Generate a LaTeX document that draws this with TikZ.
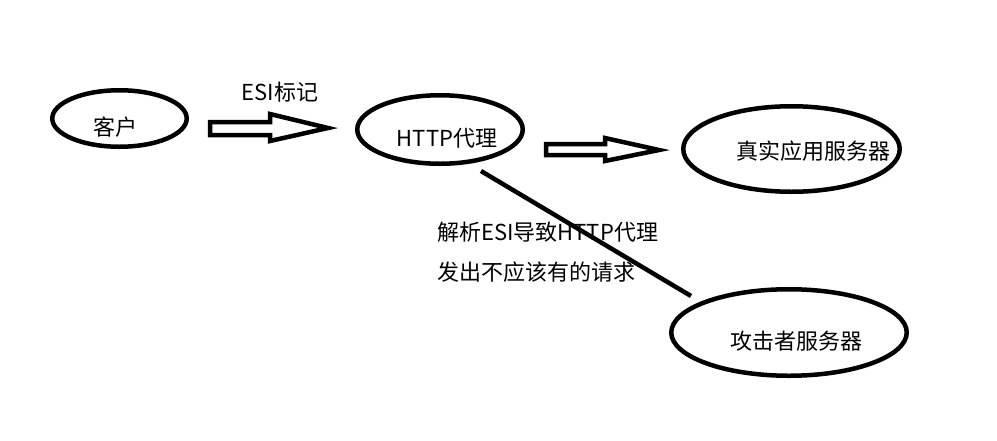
\documentclass[tikz,border=0pt]{standalone}
\usepackage{fontspec}
\setmainfont{Noto Sans CJK SC}
\usetikzlibrary{shapes.geometric}
\begin{document}
\begin{tikzpicture}[x=1pt,y=-1pt,
  oval/.style={draw,ellipse,line width=4.5pt,inner sep=0pt},
  lbl/.style={inner sep=0pt,font=\fontsize{22}{26}\selectfont},
  blockarrow/.style={draw,line width=4.5pt,line join=miter},
  link/.style={draw,line width=4.5pt}]
\useasboundingbox (0,0) rectangle (997,440);
\fill[white] (0,0) rectangle (997,440);
% ellipses
\node[oval,minimum width=134.5pt,minimum height=56.5pt] (client) at (119.5,118.5) {};
\node[oval,minimum width=165.5pt,minimum height=68.5pt] (proxy) at (440,129.5) {};
\node[oval,minimum width=216.5pt,minimum height=85.5pt] (real) at (791.5,149) {};
\node[oval,minimum width=235.5pt,minimum height=86.5pt] (attacker) at (789,332.5) {};
% labels
\node[lbl] (tclient) at (115,127) {客户};
\node[lbl] (tproxy) at (447,138) {HTTP代理};
\node[lbl] (treal) at (813,151) {真实应用服务器};
\node[lbl] (tatt) at (796,341) {攻击者服务器};
\node[lbl] (tesi) at (280,92) {ESI标记};
\node[lbl,anchor=west] (tdesc1) at (437,232) {解析ESI导致HTTP代理};
\node[lbl,anchor=west] (tdesc2) at (437,272) {发出不应该有的请求};
% block arrows
\path[blockarrow] (210,122) -- (270,122) -- (270,114) -- (328,128) -- (270,141) -- (270,135) -- (210,135) -- cycle;
\path[blockarrow] (546,144) -- (605,144) -- (605,138) -- (659,150) -- (605,161) -- (605,155) -- (546,155) -- cycle;
% line
\coordinate (ls) at (481,171);
\coordinate (le) at (691,296);
\draw[link] (ls) -- (le);
\end{tikzpicture}
\end{document}
